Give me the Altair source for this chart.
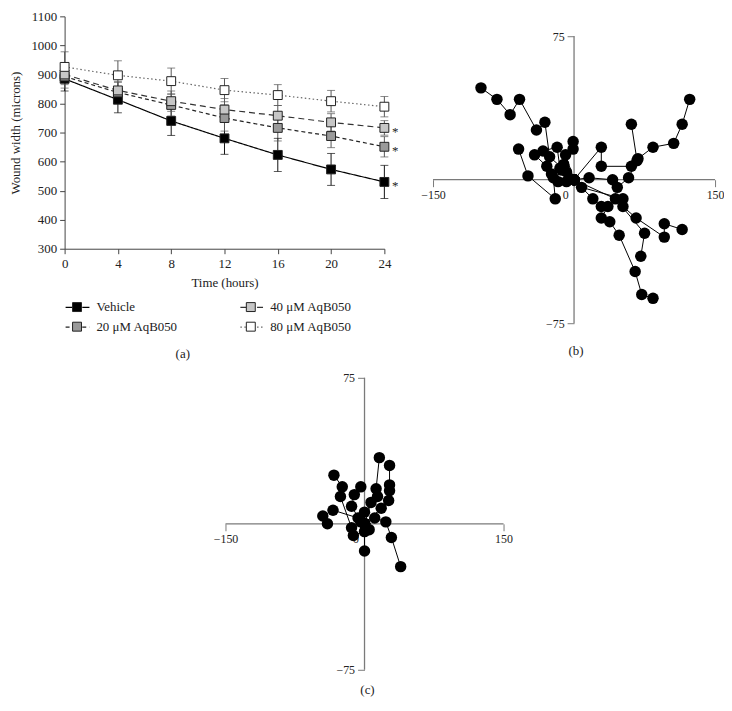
import altair as alt
import pandas as pd

FONT = "Liberation Serif"
INK = "#222222"
AXG = "#7a7a7a"

# ---------------- panel (a): wound width over time ----------------
time_h = [0, 4, 8, 12, 16, 20, 24]
series_order = ["Vehicle", "20 μM AqB050", "40 μM AqB050", "80 μM AqB050"]
vehicle = [885, 813, 740, 680, 623, 573, 530]
vehicle_err = [42, 45, 50, 55, 57, 55, 57]
aq20 = [893, 838, 795, 750, 716, 688, 651]
aq20_err = [40, 35, 38, 45, 45, 40, 35]
aq40 = [900, 845, 808, 779, 758, 735, 716]
aq40_err = [35, 30, 35, 38, 35, 30, 25]
aq80 = [926, 897, 877, 846, 829, 808, 789]
aq80_err = [52, 50, 45, 40, 36, 37, 35]
significant = ["Vehicle", "20 μM AqB050", "40 μM AqB050"]
y_ticks_a = [300, 400, 500, 600, 700, 800, 900, 1000, 1100]

line_colors = ["#000000", "#222222", "#333333", "#666666"]
fill_colors = ["#000000", "#9a9a9a", "#c6c6c6", "#ffffff"]
err_colors = ["#111111", "#555555", "#555555", "#555555"]
dashes = [[1, 0], [4, 3], [6, 4], [1.5, 2.5]]

rows = []
for i, (name, m, e) in enumerate([("Vehicle", vehicle, vehicle_err), ("20 μM AqB050", aq20, aq20_err),
                                  ("40 μM AqB050", aq40, aq40_err), ("80 μM AqB050", aq80, aq80_err)]):
    for t, v, d in zip(time_h, m, e):
        rows.append(dict(series=name, t=t, mean=v, lo=v - d, hi=v + d, ecol=err_colors[i]))
df_a = pd.DataFrame(rows)
df_caps = (df_a.drop(columns=["mean"])
           .melt(id_vars=["series", "t", "ecol"], value_vars=["lo", "hi"], value_name="mean"))
df_star = df_a[(df_a.t == 24) & (df_a.series.isin(significant))]

sc_stroke = alt.Scale(domain=series_order, range=line_colors)
sc_dash = alt.Scale(domain=series_order, range=dashes)

LINE_PATH = "M-1,0H-0.4M0.4,0H1"
SQ_PATH = "M-0.375,-0.375H0.375V0.375H-0.375Z"
leg_common = dict(title=None, orient="none", legendX=0, legendY=280, columns=2,
                  rowPadding=-5, symbolSize=576, symbolOpacity=1,
                  labelFont=FONT, labelFontSize=13, labelColor=INK, labelOffset=7,
                  direction="vertical")
leg_lines = alt.Legend(symbolType=LINE_PATH, symbolStrokeWidth=1.2, labelExpr="''",
                       columnPadding=141, **leg_common)
leg_sq = alt.Legend(symbolType=SQ_PATH, symbolStrokeWidth=1, symbolStrokeColor="#222222",
                    columnPadding=60, **leg_common)

ax_xa = alt.Axis(values=time_h, title="Time (hours)", grid=False, tickSize=5, labelFlush=False,
                 domainColor="#444444", tickColor="#444444", labelColor=INK, titleColor=INK,
                 labelFontSize=13, titleFontSize=13, labelPadding=4, titlePadding=6,
                 titleFontWeight="normal", format="d")
ax_ya = alt.Axis(values=y_ticks_a, title="Wound width (microns)", grid=False, tickSize=5,
                 domainColor="#444444", tickColor="#444444", labelColor=INK, titleColor=INK,
                 labelFontSize=13, titleFontSize=13, labelPadding=3, titlePadding=8,
                 titleFontWeight="normal", format="d")
sc_ya = alt.Scale(domain=[300, 1100], nice=False, zero=False)
xa = alt.X("t:Q", scale=alt.Scale(domain=[0, 24], nice=False, zero=False), axis=ax_xa)
ya = alt.Y("mean:Q", scale=sc_ya, axis=ax_ya)

base_a = alt.Chart(df_a)
err_stem = base_a.mark_rule(strokeWidth=1).encode(
    x=xa, y=alt.Y("lo:Q", scale=sc_ya, axis=ax_ya),
    y2="hi:Q", stroke=alt.Stroke("ecol:N", scale=None))
err_caps = alt.Chart(df_caps).mark_tick(orient="horizontal", size=8, thickness=1).encode(
    x=xa, y=ya, color=alt.Color("ecol:N", scale=None))
lines_a = base_a.mark_line(strokeWidth=1.2).encode(
    x=xa, y=ya,
    stroke=alt.Stroke("series:N", scale=sc_stroke, legend=leg_lines),
    strokeDash=alt.StrokeDash("series:N", scale=sc_dash, legend=leg_lines))
squares_a = base_a.mark_square(size=80, opacity=1, strokeWidth=1, stroke="#222222").encode(
    x=xa, y=ya,
    fill=alt.Fill("series:N", scale=alt.Scale(range=fill_colors), sort=series_order,
                  legend=leg_sq))
stars_a = alt.Chart(df_star).mark_text(text="*", dx=11, dy=4, fontSize=13, font=FONT,
                                       color=INK).encode(x=xa, y=ya)

panel_a = alt.layer(err_stem, err_caps, lines_a, squares_a, stars_a).properties(
    width=322, height=234,
    title=alt.TitleParams("(a)", orient="bottom", anchor="middle", frame="group", offset=59,
                          dx=-42, fontSize=13, fontWeight="normal", font=FONT, color=INK))

# ---------------- panel (b): cell tracks ----------------
b_track_x = [
    [0, -8, -26, -31, -40, -58, -68, -82, -99],
    [0, 29, 29, 61, 68, 84, 106, 115, 123],
    [0, 16, 41, 46, 58, 67, 61],
    [0, 20, 29, 36, 29, 38, 48, 65, 72, 84],
    [0, 8, 52, 52, 66, 96, 96, 115],
    [0, 44, 75, 71],
    [0, -9, -1, -1],
    [0, -17, -22, -20, -49, -59],
    [0, -15, -18, -33, -42, -29],
    [0, -8, -13, -24, -11],
]
b_track_y = [
    [0, 4, 12, 30, 26, 42, 34, 42, 48],
    [0, 17, 7, 7, 11, 17, 19, 29, 42],
    [0, 1, 0, -4, 1, 10, 29],
    [0, -10, -14, -14, -20, -22, -29, -48, -60, -62],
    [0, -4, -10, -14, -20, -30, -23, -26],
    [0, -10, -28, -40],
    [0, 13, 16, 20],
    [0, -1, 1, -10, 2, 16],
    [0, 6, 17, 15, 13, 7],
    [0, -1, 5, 3, 8],
]

# ---------------- panel (c): cell tracks ----------------
c_track_x = [
    [0, 7, 12.5, 16],
    [0, 18, 26, 27, 27, 27],
    [0, -4, -14, -11, -4],
    [0, -14, -26, -24, -33],
    [0, -7, -34, -45, -40],
    [0, 0, 0],
    [0, 11, 23, 29, 39],
    [0, 5, -12],
    [0, 0, 14],
]
c_track_y = [
    [0, 11, 18, 34],
    [0, 8, 12, 17, 20, 30],
    [0, 1, 9, 15, 19],
    [0, -2, 14, 19, 25],
    [0, 3, 7, 4, 0],
    [0, -4, -14],
    [0, 3, 1, -7, -22],
    [0, -3, -6],
    [0, 6, 14],
]

axis_ends_x = [-150, 150]
axis_ends_y = [-75, 75]


def tracks_df(xs, ys):
    out = []
    for k, (tx, ty) in enumerate(zip(xs, ys)):
        for s, (px, py) in enumerate(zip(tx, ty)):
            out.append(dict(track=k, step=s, x=px, y=py))
    return pd.DataFrame(out)


def track_panel(xs, ys, xdom, ydom, w, h, xoff, yoff, label, tdx, toff):
    df = tracks_df(xs, ys)
    sx = alt.Scale(domain=xdom, nice=False, zero=False)
    sy = alt.Scale(domain=ydom, nice=False, zero=False)
    neg = "replace(datum.label, '-', '\u2212')"
    ax_x = alt.Axis(values=[-150, 0, 150], title=None, domain=False, grid=False, orient="bottom",
                    offset=xoff, tickSize=7, tickColor=AXG, labelColor=INK, labelFontSize=12,
                    labelFlush=False, labelPadding=3, labelExpr=neg,
                    labelOffset={"condition": {"test": "datum.value == 0", "value": -9}, "value": 0})
    ax_y = alt.Axis(values=[-75, 75], title=None, domain=False, grid=False, orient="left",
                    offset=yoff, tickSize=7, tickColor=AXG, labelColor=INK, labelFontSize=12,
                    labelPadding=3, labelExpr=neg)
    X = alt.X("x:Q", scale=sx, axis=ax_x)
    Y = alt.Y("y:Q", scale=sy, axis=ax_y)
    hdf = pd.DataFrame({"x": [axis_ends_x[0]], "x2": [axis_ends_x[1]], "y": [0]})
    vdf = pd.DataFrame({"x": [0], "y": [axis_ends_y[0]], "y2": [axis_ends_y[1]]})
    hrule = alt.Chart(hdf).mark_rule(color=AXG, strokeWidth=1.3).encode(x=X, x2="x2:Q", y=Y)
    vrule = alt.Chart(vdf).mark_rule(color=AXG, strokeWidth=1.3).encode(x=X, y=Y, y2="y2:Q")
    lines = alt.Chart(df).mark_line(color="#000000", strokeWidth=1).encode(
        x=X, y=Y, detail="track:N", order="step:Q")
    dots = alt.Chart(df).mark_circle(size=133, opacity=1, color="#000000").encode(x=X, y=Y)
    return alt.layer(hrule, vrule, lines, dots).properties(
        width=w, height=h,
        title=alt.TitleParams(label, orient="bottom", anchor="middle", frame="group", offset=toff,
                              dx=tdx, fontSize=13, fontWeight="normal", font=FONT, color=INK))


panel_b = track_panel(b_track_x, b_track_y, [-150, 150], [-75, 85.38], 284, 309,
                      -144.5, -142, "(b)", 2, 16)
panel_c = track_panel(c_track_x, c_track_y, [-323.6, 150], [-75, 75], 442, 294,
                      -147, -302, "(c)", 84, 8)

chart = alt.vconcat(
    alt.hconcat(panel_a, panel_b, spacing=21),
    panel_c, spacing=11
).properties(
    padding={"left": 2, "top": 0, "right": 0, "bottom": 0}
).configure(font=FONT).configure_view(strokeWidth=0)

chart.save("out.html", embed_options={"renderer": "svg", "actions": False})
